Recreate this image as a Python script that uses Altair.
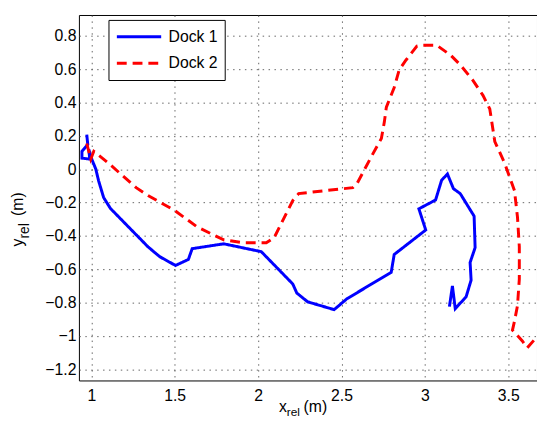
import altair as alt
import pandas as pd

# ---- data ----
series = ["Dock 1", "Dock 2"]

dock1_x = [0.973, 0.979, 0.944, 0.944, 0.991, 0.985, 1.003, 1.027, 1.044, 1.074,
           1.115, 1.340, 1.410, 1.505, 1.582, 1.605, 1.794, 2.019, 2.208, 2.232,
           2.297, 2.456, 2.532, 2.798, 2.816, 3.005, 2.964, 3.064, 3.100, 3.135,
           3.171, 3.212, 3.295, 3.301, 3.271, 3.277, 3.247, 3.182, 3.165, 3.147]
dock1_y = [0.208, 0.149, 0.108, 0.067, 0.061, 0.120, 0.061, 0.002, -0.069, -0.169,
           -0.235, -0.465, -0.524, -0.577, -0.541, -0.476, -0.447, -0.494, -0.688, -0.742,
           -0.795, -0.842, -0.777, -0.618, -0.511, -0.364, -0.237, -0.184, -0.066, -0.028,
           -0.116, -0.146, -0.281, -0.470, -0.559, -0.665, -0.765, -0.836, -0.700, -0.824]

dock2_x = [0.973, 0.997, 1.015, 1.103, 1.269, 1.340, 1.499, 1.635, 1.794, 1.913,
           2.049, 2.096, 2.208, 2.243, 2.403, 2.568, 2.592, 2.627, 2.680, 2.739,
           2.757, 2.769, 2.816, 2.846, 2.887, 2.952, 2.982, 3.070, 3.153, 3.212,
           3.289, 3.348, 3.389, 3.419, 3.478, 3.537, 3.555, 3.566, 3.566, 3.555,
           3.537, 3.525, 3.584, 3.614, 3.655]
dock2_y = [0.155, 0.061, 0.108, 0.037, -0.110, -0.157, -0.246, -0.346, -0.423, -0.441,
           -0.441, -0.411, -0.187, -0.146, -0.128, -0.110, -0.087, -0.022, 0.078, 0.185,
           0.285, 0.373, 0.491, 0.597, 0.656, 0.739, 0.745, 0.745, 0.686, 0.627,
           0.532, 0.444, 0.362, 0.167, 0.037, -0.128, -0.287, -0.464, -0.659, -0.818,
           -0.912, -0.965, -1.030, -1.071, -1.024]

x_ticks = [1, 1.5, 2, 2.5, 3, 3.5]
y_ticks = [-1.2, -1, -0.8, -0.6, -0.4, -0.2, 0, 0.2, 0.4, 0.6, 0.8]

rows = []
for name, xs, ys in ((series[0], dock1_x, dock1_y), (series[1], dock2_x, dock2_y)):
    for i, (xv, yv) in enumerate(zip(xs, ys)):
        rows.append({"dock": name, "x": xv, "y": yv, "i": i})
df = pd.DataFrame(rows)

FONT = "Liberation Sans"

legend = alt.Legend(
    title=None, orient="none", legendX=30, legendY=5,
    fillColor="white", strokeColor="black", padding=7,
    symbolType="stroke", symbolSize=2025, symbolStrokeWidth=3,
    clipHeight=20, rowPadding=7, labelFontSize=16, labelFont=FONT,
    labelColor="black", labelOffset=6, cornerRadius=0,
)

lines = alt.Chart(df).mark_line(strokeWidth=3, clip=True).encode(
    x=alt.X("x:Q",
            scale=alt.Scale(domain=[0.926, 3.672], nice=False, zero=False),
            axis=alt.Axis(values=x_ticks, format="~g", title=None, labelPadding=7)),
    y=alt.Y("y:Q",
            scale=alt.Scale(domain=[-1.267, 0.926], nice=False, zero=False),
            axis=alt.Axis(values=y_ticks, format="~g", title=None, labelPadding=3)),
    color=alt.Color("dock:N", scale=alt.Scale(domain=series, range=["#0000ff", "#ff0000"]),
                    legend=legend),
    strokeDash=alt.StrokeDash("dock:N", scale=alt.Scale(domain=series, range=[[1, 0], [10, 6]]),
                              legend=legend),
    order="i:Q",
)


def label(txt, size, x, y, angle=0):
    return alt.Chart(pd.DataFrame({"t": [txt]})).mark_text(
        align="left", baseline="alphabetic", font=FONT, fontSize=size,
        color="black", angle=angle,
    ).encode(text="t:N", x=alt.value(x), y=alt.value(y))


texts = [
    label("x", 16, 203, 403),
    label("rel", 12, 211, 407),
    label("(m)", 16, 228, 403),
    label("y", 16, -57, 235, 270),
    label("rel", 14, -51, 227, 270),
    label("(m)", 16, -57, 204, 270),
]

chart = alt.layer(lines, *texts).properties(
    width=465, height=371,
    autosize="none",
    padding={"left": 72, "top": 4, "right": 0, "bottom": 36},
).configure_view(
    stroke="black", strokeWidth=1,
).configure_axis(
    grid=True, gridColor="#555555", gridDash=[1.5, 4.5], gridWidth=1, gridOpacity=0.9,
    ticks=False, tickSize=0, domain=False,
    labelFont=FONT, labelFontSize=16, labelColor="black",
)

chart.save("out.html", embed_options={"renderer": "svg", "actions": False})
